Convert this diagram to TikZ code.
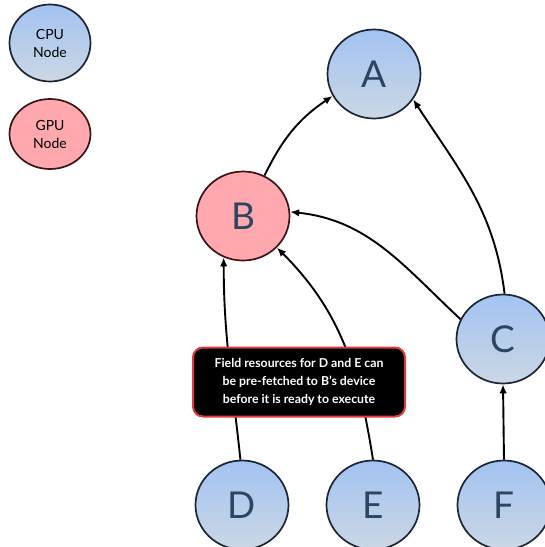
\documentclass[tikz,border=0pt]{standalone}
\usepackage{fontspec}
\setmainfont{Lato}
\usetikzlibrary{shapes.geometric,arrows.meta}

\definecolor{cpuTop}{HTML}{A3C3F2}
\definecolor{cpuBot}{HTML}{CBD7E4}
\definecolor{cpuLine}{HTML}{1B2535}
\definecolor{gpuFill}{HTML}{FFA9AE}
\definecolor{gpuLine}{HTML}{3A1416}
\definecolor{letterInk}{HTML}{2C4563}
\definecolor{noteRed}{HTML}{E23A3C}

\tikzset{
  cpunode/.style={ellipse, draw=cpuLine, line width=1.7pt,
    top color=cpuTop, bottom color=cpuBot, inner sep=0pt},
  gpunode/.style={ellipse, draw=gpuLine, line width=1.7pt,
    fill=gpuFill, inner sep=0pt},
  tasknode/.style={minimum width=93pt, minimum height=89pt,
    font=\fontsize{37}{37}\selectfont, text=letterInk},
  legendnode/.style={minimum width=81pt, align=center,
    font=\fontsize{14}{18}\selectfont, text=black},
  dep/.style={line width=1.9pt, -{Latex[length=9pt,width=7.5pt]}},
  notebox/.style={rectangle, rounded corners=10pt, fill=black,
    draw=noteRed, line width=2pt, text=white, align=center,
    minimum width=212pt, minimum height=69pt, inner sep=2pt,
    font=\bfseries\fontsize{12.3}{18}\selectfont}
}

\begin{document}
\begin{tikzpicture}[x=1pt,y=-1pt]
  \useasboundingbox (0,0) rectangle (545,547);

  % legend
  \node[cpunode, legendnode, minimum height=77pt] (cpuKey) at (50,43) {CPU\\Node};
  \node[gpunode, legendnode, minimum height=70pt] (gpuKey) at (50,134) {GPU\\Node};

  % task graph
  \node[cpunode, tasknode] (A) at (374,74) {A};
  \node[gpunode, tasknode] (B) at (243,216) {B};
  \node[cpunode, tasknode] (C) at (503,339) {C};
  \node[cpunode, tasknode] (D) at (242,505) {D};
  \node[cpunode, tasknode] (E) at (373,505) {E};
  \node[cpunode, tasknode] (F) at (504,505) {F};

  % dependencies
  \draw[dep] (B.62) to[out=64, in=214] (A.208);
  \draw[dep] (C.88) to[out=97, in=-57] (A.-33);
  \draw[dep] (C.155) to[out=137, in=-6] (B.5);
  \draw[dep] (D.92) to[out=96, in=-90] (B.-115);
  \draw[dep] (E.90) to[out=99, in=-45] (B.-43);
  \draw[dep] (F.north) -- (C.south);

  % annotation
  \node[notebox] (note) at (299,382)
    {Field resources for D and E can\\be pre-fetched to B's device\\before it is ready to execute};
\end{tikzpicture}
\end{document}
